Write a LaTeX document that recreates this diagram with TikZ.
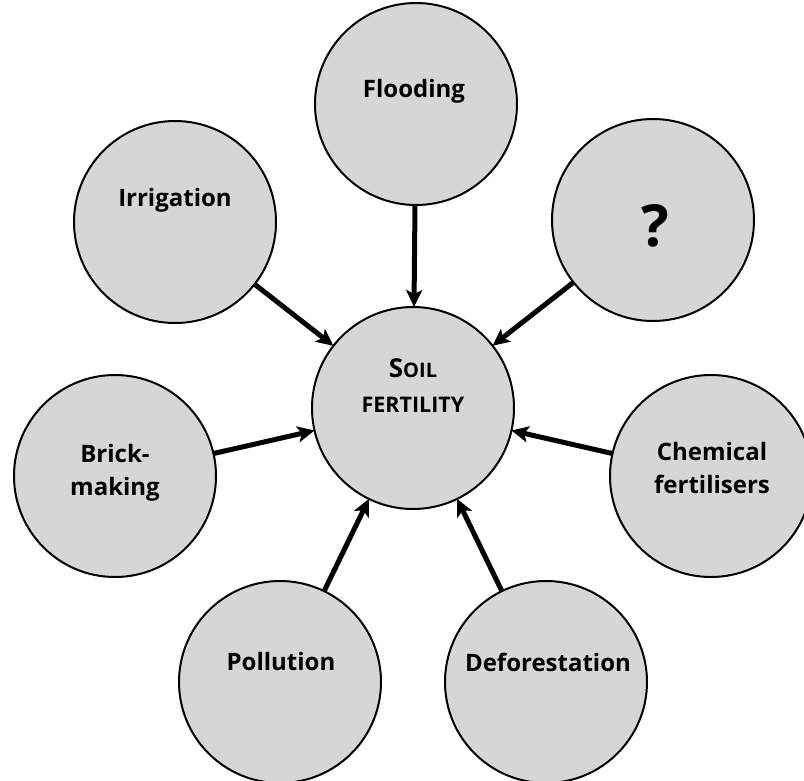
\documentclass[tikz,border=0pt]{standalone}
\usepackage{fontspec}
\setmainfont{Open Sans}[BoldFont={Open Sans Bold}]
\usetikzlibrary{arrows.meta}
\begin{document}
\begin{tikzpicture}[x=1pt,y=-1pt,
  bubble/.style={circle,draw=black,line width=2pt,fill=black!16,minimum size=202pt,inner sep=0pt,outer sep=0pt},
  lbl/.style={anchor=base,inner sep=0pt,font=\bfseries\fontsize{24}{28}\selectfont},
  conn/.style={line width=5pt,-{Stealth[length=17pt,width=16pt,inset=4pt]}}]
\useasboundingbox (0,0) rectangle (804,780);
\clip (0,0) rectangle (804,780);
\node[bubble] (soil) at (413,408) {};
\node[bubble] (flood) at (416,104) {};
\node[bubble] (quest) at (653,220) {};
\node[bubble] (irrig) at (175,222) {};
\node[bubble] (brick) at (115,476) {};
\node[bubble] (chem) at (711,476) {};
\node[bubble] (poll) at (280,682) {};
\node[bubble] (defor) at (546,682) {};
% labels
\node[lbl] (tflood) at (414,97) {Flooding};
\node[lbl] (tirrig) at (175,206) {Irrigation};
\node[lbl,font=\bfseries\fontsize{58}{64}\selectfont] (tquest) at (655,246) {?};
\node[lbl] (tbrick1) at (115,462) {Brick-};
\node[lbl] (tbrick2) at (115,495) {making};
\node[lbl] (tchem1) at (712,460) {Chemical};
\node[lbl] (tchem2) at (712,493) {fertilisers};
\node[lbl] (tsoil1) at (413,377) {{\fontsize{26}{28}\selectfont S}{\fontsize{20}{28}\selectfont OIL}};
\node[lbl,font=\bfseries\fontsize{21.5}{28}\selectfont] (tsoil2) at (413,412) {FERTILITY};
\node[lbl] (tpoll) at (281,670) {Pollution};
\node[lbl] (tdefor) at (548,671) {Deforestation};
% connectors
\foreach \s in {flood,quest,irrig,brick,chem,poll,defor}
  \draw[conn] (\s) -- (soil);
\end{tikzpicture}
\end{document}
